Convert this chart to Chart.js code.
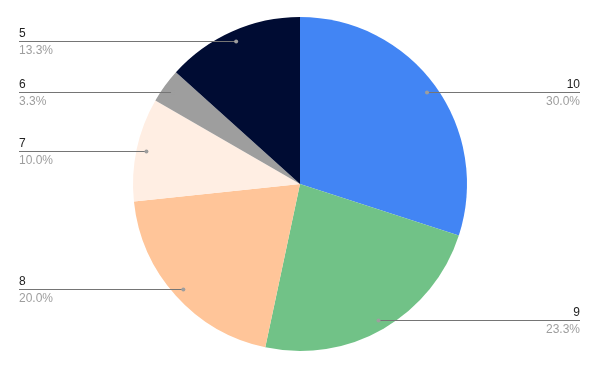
<!DOCTYPE html>
<html>
<head>
<meta charset="utf-8">
<script src="https://cdn.jsdelivr.net/npm/chart.js@4"></script>
<style>
    html, body { margin: 0; padding: 0; background: #fff; }
    #wrap { width: 600px; height: 371px; }
</style>
</head>
<body>
<div id="wrap"><canvas id="pie-chart"></canvas></div>
<script>
const labels = ['10', '9', '8', '7', '6', '5'];
const counts = [9, 7, 6, 3, 1, 4];
const colors = ['#4285f4', '#71c287', '#ffc599', '#ffeee3', '#9e9e9e', '#000c33'];

// Draw the leader lines and labels the way Sheets does
const leaderLabels = {
    id: 'leaderLabels',
    afterDraw(chart) {
        const ctx = chart.ctx;
        const meta = chart.getDatasetMeta(0);
        const total = counts.reduce((a, b) => a + b, 0);
        meta.data.forEach((arc, i) => {
            const p = arc.getProps(['x', 'y', 'startAngle', 'endAngle', 'outerRadius'], true);
            const mid = (p.startAngle + p.endAngle) / 2;
            const r = p.outerRadius - 10;
            const dx = p.x + Math.cos(mid) * r;
            const dy = Math.round(p.y + Math.sin(mid) * r) + 0.5;
            const onRight = Math.cos(mid) > 0;
            const endX = onRight ? 580 : 19;

            ctx.save();
            ctx.strokeStyle = '#757575';
            ctx.lineWidth = 1;
            ctx.beginPath();
            ctx.moveTo(dx, dy);
            ctx.lineTo(endX, dy);
            ctx.stroke();

            ctx.fillStyle = '#9e9e9e';
            ctx.beginPath();
            ctx.arc(dx, dy, 2, 0, Math.PI * 2);
            ctx.fill();

            ctx.font = '12px "Liberation Sans", Arial, sans-serif';
            ctx.textAlign = onRight ? 'right' : 'left';
            ctx.fillStyle = '#222222';
            ctx.textBaseline = 'alphabetic';
            ctx.fillText(labels[i], endX, dy - 4.5);
            ctx.fillStyle = '#9e9e9e';
            ctx.textBaseline = 'top';
            const pct = (counts[i] / total * 100).toFixed(1) + '%';
            ctx.fillText(pct, endX, dy + 3.5);
            ctx.restore();
        });
    }
};

const ctx = document.getElementById('pie-chart').getContext('2d');
new Chart(ctx, {
    type: 'pie',
    data: {
        labels: labels,
        datasets: [{
            data: counts,
            backgroundColor: colors,
            borderWidth: 0
        }]
    },
    options: {
        responsive: true,
        maintainAspectRatio: false,
        animation: false,
        layout: { padding: { top: 17, bottom: 20, left: 0, right: 0 } },
        plugins: {
            legend: { display: false },
            tooltip: { enabled: false }
        }
    },
    plugins: [leaderLabels]
});
</script>
</body>
</html>
